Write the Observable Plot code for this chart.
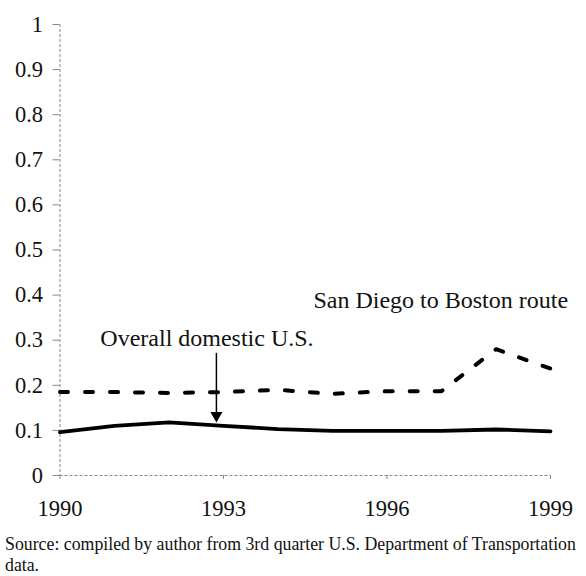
<!DOCTYPE html>
<html>
<head>
<meta charset="utf-8">
<script src="https://cdn.jsdelivr.net/npm/d3@7"></script>
<script src="https://cdn.jsdelivr.net/npm/@observablehq/plot@0.6"></script>
<style>
  body { margin: 0; background: #fff; }
  #chart { width: 586px; height: 525px; }
  .caption { font-family: "Liberation Serif", "Times New Roman", serif; font-size: 17.8px; color: #111; margin: 9px 0 0 5px; line-height: 21px; width: 581px; white-space: nowrap; }
</style>
</head>
<body>
<div id="chart"></div>
<script>
const years = [1990, 1991, 1992, 1993, 1994, 1995, 1996, 1997, 1998, 1999];
const sanDiegoBoston = [0.185, 0.185, 0.183, 0.185, 0.19, 0.181, 0.187, 0.187, 0.28, 0.237];
const overallDomestic = [0.096, 0.11, 0.118, 0.11, 0.103, 0.099, 0.099, 0.099, 0.102, 0.098];
const yTicks = [0, 0.1, 0.2, 0.3, 0.4, 0.5, 0.6, 0.7, 0.8, 0.9, 1];
const xTicks = [1990, 1993, 1996, 1999];
const labels = [
  {text: "San Diego to Boston route", x: 1994.65, y: 0.388},
  {text: "Overall domestic U.S.", x: 1990.74, y: 0.304}
];
const arrows = [{x: 1992.87, y1: 0.272, y2: 0.14, head: 0.133}];
const captionLines = ["Source: compiled by author from 3rd quarter U.S. Department of Transportation", "data."];

const sd = years.map((y, i) => ({year: y, value: sanDiegoBoston[i]}));
const od = years.map((y, i) => ({year: y, value: overallDomestic[i]}));

const font = "'Liberation Serif', 'Times New Roman', serif";
const chart = Plot.plot({
  width: 586,
  height: 525,
  marginLeft: 59.5,
  marginRight: 36,
  marginTop: 24,
  marginBottom: 50,
  style: {fontFamily: font, color: "#111", background: "#fff"},
  x: {domain: [1990, 1999]},
  y: {domain: [0, 1]},
  marks: [
    Plot.axisX({ticks: xTicks, tickFormat: d => String(d), label: null, tickSize: 4, tickPadding: 21, fontSize: 22.5, stroke: "#888"}),
    Plot.axisY({ticks: yTicks, tickFormat: d => String(d), label: null, tickSize: 7, tickPadding: 10, fontSize: 22.5, stroke: "#888"}),
    Plot.ruleX([1990], {stroke: "#888", strokeWidth: 1, strokeDasharray: "3,2"}),
    Plot.ruleY([0], {stroke: "#888", strokeWidth: 1, strokeDasharray: "3,2"}),
    Plot.line(od, {x: "year", y: "value", stroke: "#000", strokeWidth: 3.8}),
    Plot.line(sd, {x: "year", y: "value", stroke: "#000", strokeWidth: 4, strokeDasharray: "8,17"}),
    Plot.text(labels, {x: "x", y: "y", text: "text", textAnchor: "start", fontSize: 24, fill: "#111"}),
    Plot.link(arrows, {x1: "x", x2: "x", y1: "y1", y2: "y2", stroke: "#000", strokeWidth: 1.5}),
    Plot.dot(arrows, {x: "x", y: "head", symbol: "triangle", r: 4.5, rotate: 180, fill: "#000", stroke: "none"})
  ]
});
document.getElementById("chart").appendChild(chart);
const cap = document.createElement("div");
cap.className = "caption";
captionLines.forEach((t, i) => {
  if (i) cap.appendChild(document.createElement("br"));
  cap.appendChild(document.createTextNode(t));
});
document.body.appendChild(cap);
</script>
</body>
</html>
